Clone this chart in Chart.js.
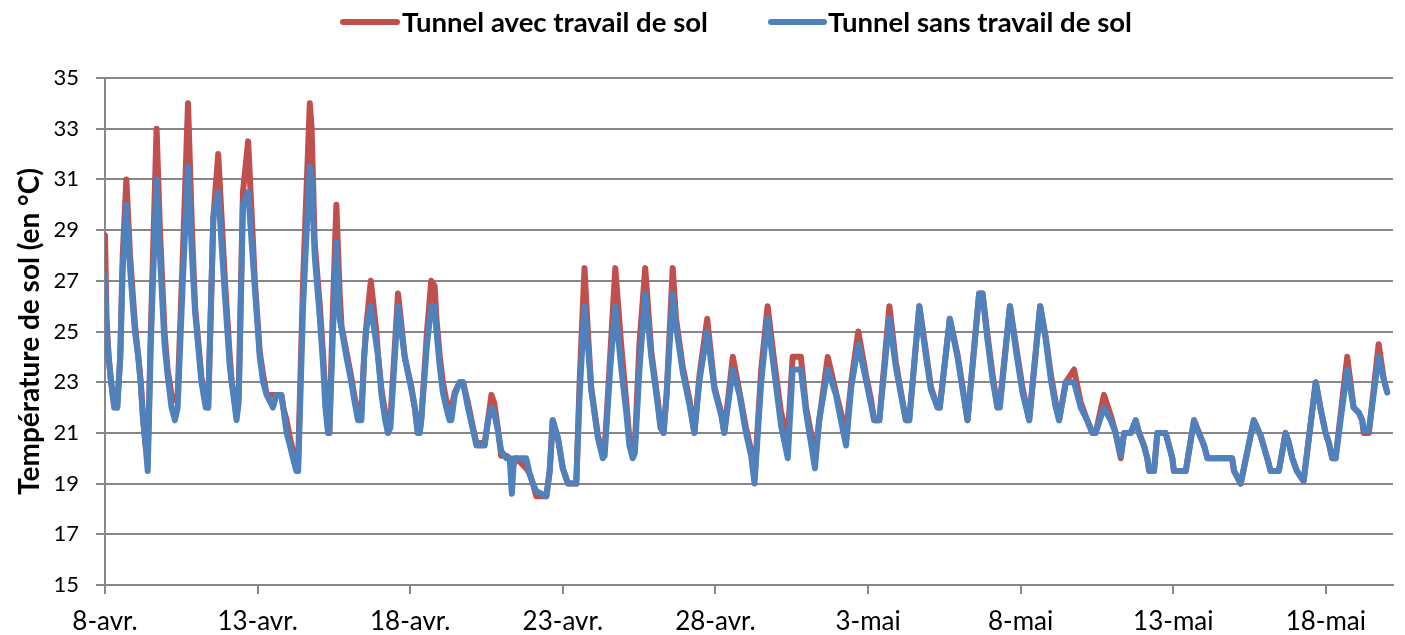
<!DOCTYPE html>
<html lang="fr">
<head>
<meta charset="utf-8">
<script src="https://cdn.jsdelivr.net/npm/chart.js@4/dist/chart.umd.min.js"></script>
<style>
html,body{margin:0;padding:0;background:#fff;}
#wrap{width:1405px;height:635px;position:relative;}
</style>
</head>
<body>
<div id="wrap"><canvas id="c" width="1405" height="635"></canvas></div>
<script>
// ---- Données (jours depuis le 8 avril 0h) ----
const tickLabels = ['8-avr.','13-avr.','18-avr.','23-avr.','28-avr.','3-mai','8-mai','13-mai','18-mai'];
const yTicks = [15,17,19,21,23,25,27,29,31,33,35];
const seriesNames = ['Tunnel avec travail de sol','Tunnel sans travail de sol'];

const jours = [
  0.00,0.05,0.12,0.20,0.30,0.40,0.50,0.58,0.70,0.82,0.98,
  1.09,1.17,1.25,1.33,1.40,1.50,1.69,1.80,1.95,
  2.05,2.18,2.29,2.38,2.55,2.72,2.85,2.95,
  3.16,3.30,3.38,3.55,3.71,3.93,
  4.09,4.15,4.31,4.38,4.52,4.69,4.91,
  5.07,5.18,5.30,5.50,5.62,5.78,5.84,5.95,
  6.06,6.16,6.27,6.33,6.49,6.71,6.77,6.87,
  7.04,7.15,7.22,7.31,7.35,7.47,7.58,7.69,7.75,7.91,
  8.07,8.18,8.29,8.40,8.49,8.56,8.71,8.89,8.95,
  9.06,9.18,9.27,9.35,9.60,9.69,9.82,
  10.04,10.15,10.24,10.31,10.36,10.55,10.69,10.80,10.86,10.97,
  11.07,11.18,11.29,11.35,11.46,11.62,11.73,11.89,
  12.06,12.17,12.44,12.55,12.66,12.75,12.87,12.98,
  13.15,13.26,13.33,13.40,13.48,13.80,13.91,
  14.02,14.13,14.46,14.57,14.67,14.84,
  15.00,15.17,15.44,15.55,15.71,15.82,15.93,
  16.15,16.31,16.37,16.55,16.72,16.91,
  17.08,17.18,17.29,17.36,17.51,17.70,17.82,17.90,
  18.11,18.20,18.30,18.40,18.60,18.71,18.93,
  19.15,19.31,19.48,19.73,19.97,
  20.19,20.29,20.57,20.79,
  21.00,21.17,21.28,21.50,21.71,21.93,
  22.15,22.37,22.53,22.80,22.97,
  23.13,23.26,23.40,23.68,23.95,
  24.11,24.28,24.45,24.68,24.93,
  25.10,25.20,25.37,25.70,25.91,
  26.08,26.24,26.35,26.68,26.90,
  27.06,27.28,27.35,27.68,27.93,
  28.10,28.26,28.64,28.75,28.91,
  29.08,29.24,29.32,29.65,29.84,
  30.06,30.28,30.64,30.82,30.99,
  31.15,31.26,31.48,31.75,31.97,
  32.18,32.35,32.46,32.73,32.95,
  33.11,33.28,33.39,33.61,33.77,33.88,
  34.04,34.15,34.21,34.37,34.48,34.75,34.86,34.97,
  35.02,35.41,35.68,35.84,
  36.01,36.12,36.93,36.99,
  37.21,37.64,37.86,
  38.08,38.19,38.46,38.68,38.79,38.90,
  39.05,39.27,39.67,39.82,39.99,
  40.10,40.21,40.32,40.70,40.91,
  41.08,41.19,41.24,41.41,41.73,41.90,
  42.01
];

const avecTravail = [
  28.8,25.5,24.0,23.0,22.2,22.0,24.0,28.0,31.0,28.0,25.3,
  24.0,23.0,21.5,20.5,20.0,25.0,33.0,29.0,25.0,
  23.5,22.5,22.3,22.5,28.0,34.0,29.0,26.0,
  23.2,22.2,22.0,29.5,32.0,27.0,
  24.0,23.0,22.0,22.5,30.5,32.5,27.0,
  24.2,23.3,22.5,22.5,22.5,22.5,22.0,21.5,
  20.8,20.3,19.8,20.0,27.0,34.0,33.0,28.5,
  26.0,24.0,22.5,21.0,21.0,26.0,30.0,26.5,25.2,24.2,
  23.2,22.4,21.8,21.8,24.0,25.2,27.0,25.0,24.0,
  22.7,21.8,21.0,21.5,26.5,25.5,24.0,
  22.8,22.0,21.2,21.0,21.5,25.0,27.0,26.8,25.5,24.0,
  23.0,22.3,21.9,22.0,22.6,23.0,23.0,22.2,
  21.2,20.6,20.6,21.5,22.5,22.2,21.2,20.1,
  20.1,20.0,19.6,19.8,20.0,19.6,19.4,
  19.0,18.5,18.5,19.5,21.5,20.8,
  19.6,19.0,19.0,23.0,27.5,25.0,22.8,
  20.9,20.2,20.3,24.0,27.5,24.5,
  22.2,20.8,20.2,20.5,24.5,27.5,25.5,24.2,
  22.3,21.3,21.0,22.5,27.5,25.5,23.6,
  22.3,21.0,23.3,25.5,22.8,
  21.8,21.0,24.0,22.6,
  21.2,20.3,19.2,23.5,26.0,23.8,
  21.8,20.8,24.0,24.0,22.0,
  21.0,20.0,21.5,24.0,22.6,
  21.8,21.0,23.0,25.0,23.3,
  22.3,21.5,21.5,26.0,23.8,
  22.6,21.5,21.5,26.0,24.2,
  22.8,22.0,22.0,25.5,24.1,
  22.8,21.5,26.5,26.5,24.9,
  23.3,22.0,22.2,26.0,24.5,
  22.8,21.5,26.0,24.8,23.3,
  22.2,21.5,23.0,23.5,22.2,
  21.5,21.0,21.0,22.5,21.7,
  21.0,20.0,21.0,21.0,21.5,21.0,
  20.5,20.0,19.5,19.5,21.0,21.0,20.5,20.0,
  19.5,19.5,21.5,21.0,
  20.5,20.0,20.0,19.5,
  19.0,21.5,20.9,
  20.0,19.5,19.5,21.0,20.6,20.0,
  19.5,19.1,23.0,22.0,21.0,
  20.6,20.0,20.0,24.0,22.0,
  21.8,21.5,21.0,21.0,24.5,23.1,
  22.6
];

const sansTravail = [
  27.2,25.0,24.0,23.0,22.0,22.0,24.0,27.5,30.0,27.5,25.0,
  24.0,23.0,21.5,20.5,19.5,24.5,31.0,28.0,24.5,
  23.3,22.0,21.5,22.0,27.0,31.5,28.0,25.8,
  23.0,22.0,22.0,29.5,30.5,26.4,
  23.6,23.0,21.5,22.2,30.0,30.5,26.7,
  24.0,23.0,22.5,22.0,22.5,22.5,22.0,21.0,
  20.5,20.0,19.5,19.5,26.0,31.5,31.0,28.0,
  25.5,23.6,22.0,21.0,21.0,25.0,28.5,25.5,25.1,24.0,
  23.0,22.2,21.5,21.5,24.0,25.1,26.0,24.5,24.0,
  22.5,21.5,21.0,21.2,26.0,25.2,24.0,
  22.7,22.0,21.0,21.0,21.5,24.5,26.0,26.0,25.0,23.6,
  22.6,22.0,21.5,21.5,22.5,23.0,23.0,22.0,
  21.1,20.5,20.5,21.5,22.0,21.8,21.1,20.3,
  20.0,20.0,18.6,20.0,20.0,20.0,19.4,
  19.0,18.7,18.5,19.5,21.5,20.8,
  19.6,19.0,19.0,22.5,26.0,24.5,22.7,
  20.8,20.0,20.1,23.5,26.0,23.6,
  21.8,20.5,20.0,20.2,23.5,26.5,25.0,24.0,
  22.1,21.2,21.0,22.5,26.5,25.2,23.4,
  22.1,21.0,23.1,25.0,22.7,
  21.7,21.0,23.5,22.5,
  21.0,20.1,19.0,23.0,25.5,23.4,
  21.3,20.0,23.5,23.5,21.8,
  20.6,19.6,21.5,23.5,22.5,
  21.5,20.5,22.8,24.5,23.1,
  22.1,21.5,21.5,25.5,23.6,
  22.5,21.5,21.5,26.0,24.0,
  22.7,22.0,22.0,25.5,24.0,
  22.7,21.5,26.5,26.5,24.7,
  23.1,22.0,22.0,26.0,24.3,
  22.6,21.5,26.0,24.7,23.1,
  22.0,21.5,23.0,23.0,22.0,
  21.5,21.0,21.0,22.0,21.5,
  21.0,20.1,21.0,21.0,21.5,21.0,
  20.5,20.0,19.5,19.5,21.0,21.0,20.5,20.0,
  19.5,19.5,21.5,21.0,
  20.5,20.0,20.0,19.5,
  19.0,21.5,20.9,
  20.0,19.5,19.5,21.0,20.6,20.0,
  19.5,19.1,23.0,22.0,21.0,
  20.6,20.0,20.0,23.5,22.0,
  21.8,21.5,21.1,21.1,24.0,23.1,
  22.6
];

if (jours.length !== avecTravail.length || jours.length !== sansTravail.length) {
  console.error('longueurs', jours.length, avecTravail.length, sansTravail.length);
}

// ---- Mise en forme ----
const ROUGE = '#C0504D', BLEU = '#4F81BD', GRIS = '#878787';
const FAMILLE = 'Lato, "Open Sans", sans-serif';

function taillePour(texte, poids, largeur) {
  const c = document.createElement('canvas').getContext('2d');
  c.font = poids + ' 100px ' + FAMILLE;
  return 100 * largeur / c.measureText(texte).width;
}
const tailleLegende = taillePour(seriesNames[0], 'bold', 306);
const tailleTitre = taillePour('Température de sol (en °C)', 'bold', 327);

const legendeHaut = {
  id: 'legendeHaut',
  afterDraw(chart) {
    const ctx = chart.ctx;
    const pos = [{x0: 343, x1: 397, tx: 402}, {x0: 771, x1: 824, tx: 828}];
    ctx.save();
    chart.data.datasets.forEach((ds, i) => {
      const p = pos[i];
      ctx.strokeStyle = ds.borderColor;
      ctx.lineWidth = 6;
      ctx.lineCap = 'round';
      ctx.beginPath(); ctx.moveTo(p.x0, 22); ctx.lineTo(p.x1, 22); ctx.stroke();
      ctx.fillStyle = '#000';
      ctx.font = 'bold ' + tailleLegende.toFixed(2) + 'px ' + FAMILLE;
      ctx.textBaseline = 'middle';
      ctx.textAlign = 'left';
      ctx.fillText(ds.label, p.tx, 23);
    });
    ctx.restore();
  }
};

const fond = {
  id: 'fond',
  beforeDraw(chart) {
    const ctx = chart.ctx;
    ctx.save(); ctx.fillStyle = '#fff'; ctx.fillRect(0, 0, chart.width, chart.height); ctx.restore();
  }
};

new Chart(document.getElementById('c'), {
  type: 'line',
  data: {
    datasets: [
      {
        label: seriesNames[0],
        data: jours.map((x, i) => ({x: x, y: avecTravail[i]})),
        borderColor: ROUGE, backgroundColor: ROUGE,
        borderWidth: 6, pointRadius: 0, tension: 0,
        borderJoinStyle: 'round', borderCapStyle: 'round', order: 2
      },
      {
        label: seriesNames[1],
        data: jours.map((x, i) => ({x: x, y: sansTravail[i]})),
        borderColor: BLEU, backgroundColor: BLEU,
        borderWidth: 6, pointRadius: 0, tension: 0,
        borderJoinStyle: 'round', borderCapStyle: 'round', order: 1
      }
    ]
  },
  options: {
    responsive: false,
    animation: false,
    devicePixelRatio: 1,
    layout: {padding: {top: 78, right: 12, bottom: 0, left: 0}},
    plugins: {legend: {display: false}, tooltip: {enabled: false}},
    scales: {
      x: {
        type: 'linear', position: 'bottom',
        min: 0, max: 42.2,
        afterBuildTicks(s) { s.ticks = tickLabels.map((_, i) => ({value: i * 5})); },
        afterFit(s) { s.height = 50; },
        grid: {drawOnChartArea: false, drawTicks: true, tickLength: 9, color: GRIS, lineWidth: 2},
        border: {color: GRIS, width: 2},
        ticks: {
          autoSkip: false, maxRotation: 0, minRotation: 0, padding: 12,
          color: '#000', font: {family: FAMILLE, size: 26},
          callback: (v) => tickLabels[Math.round(v / 5)]
        }
      },
      y: {
        min: 15, max: 35,
        afterBuildTicks(s) { s.ticks = yTicks.map(v => ({value: v})); },
        afterFit(s) { s.width = 105; },
        grid: {color: GRIS, lineWidth: 2, drawTicks: true, tickLength: 9},
        border: {color: GRIS, width: 2},
        ticks: {padding: 17, color: '#000', font: {family: FAMILLE, size: 22}},
        title: {
          display: true, text: 'Température de sol (en °C)', color: '#000',
          font: {family: FAMILLE, size: tailleTitre, weight: 'bold'},
          padding: {top: 30 - tailleTitre * 0.6, bottom: 0}
        }
      }
    }
  },
  plugins: [fond, legendeHaut]
});
</script>
</body>
</html>
